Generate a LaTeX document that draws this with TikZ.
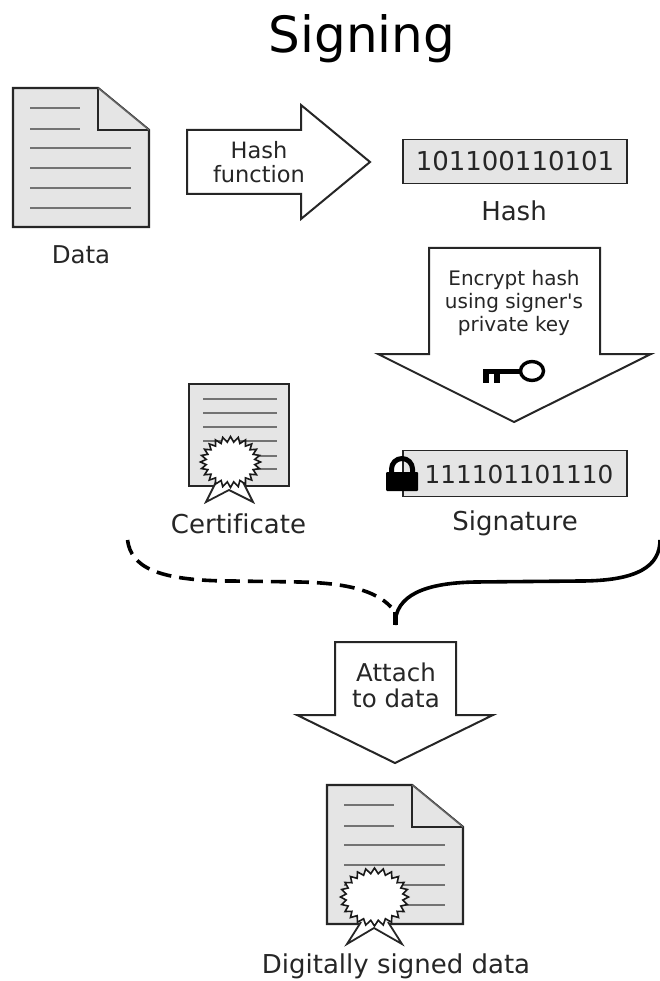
\documentclass[tikz,border=0pt]{standalone}
\usepackage{fontspec}
\setmainfont{DejaVu Sans}[Ligatures={NoCommon}]
\newfontfamily\plainfont{DejaVu Sans}
\tikzset{
  x=1pt,y=-1pt,
  sheet/.style={draw=black!85,line width=2.4pt,fill=black!10,line join=miter},
  txtline/.style={draw=black!55,line width=1.5pt},
  bigarrow/.style={draw=black!85,line width=2pt,fill=white,line join=miter},
  lab/.style={inner sep=0pt,align=center,text=black!85},
  ribbon/.style={draw=black!85,line width=1.8pt,fill=white,line join=miter},
  seal/.style={draw=black!90,line width=1.6pt,fill=white,line join=miter,miter limit=3},
  curveline/.style={draw=black,line width=3.6pt},
}
\newcommand{\sealshape}[4]{%
  \draw[seal] plot[samples at={0,7.5,...,352.5}] ({#1+(mod(round(\x/7.5),2)==0?#3:#3-5.5)*sin(\x)},{#2-(mod(round(\x/7.5),2)==0?#4:#4-5.5)*cos(\x)}) -- cycle;}
\newcommand{\docshape}[2]{%
  \begin{scope}[shift={(#1,#2)}]
  \draw[sheet] (0,0) -- (85,0) -- (136,42) -- (136,139) -- (0,139) -- cycle;
  \draw[sheet] (85,0) -- (85,42) -- (136,42);
  \draw[draw=black!60,line width=1.4pt] (85,0) -- (136,42);
  \foreach \yy in {20,41} {\draw[txtline] (17,\yy) -- (67,\yy);}
  \foreach \yy in {60,80,100,120} {\draw[txtline] (17,\yy) -- (118,\yy);}
  \end{scope}}
\begin{document}
\begin{tikzpicture}
\useasboundingbox (0,0) rectangle (660,981);
\node[lab,text=black,font=\fontsize{50}{50}\selectfont] (title) at (362,39) {Signing};
% data
\docshape{13}{88}
\node[lab,font=\fontsize{24.5}{24.5}\selectfont] (data) at (81,255) {Data};
% hash arrow
\draw[bigarrow] (187,130) -- (301,130) -- (301,105) -- (370,162) -- (301,219) -- (301,194) -- (187,194) -- cycle;
\node[lab,font=\fontsize{22.5}{24}\selectfont] (hf) at (259,162) {Hash\\function};
% hash
\node[draw=black!85,line width=1.8pt,fill=black!10,minimum width=224pt,minimum height=44pt,inner sep=0pt,text=black!85,font=\fontsize{26}{26}\selectfont] (hash) at (515,161.5) {101100110101};
\node[lab,font=\fontsize{26}{26}\selectfont] (hashlab) at (514,211) {Hash};
% encrypt arrow
\draw[bigarrow] (429,248) -- (600,248) -- (600,354) -- (651,354) -- (514,422) -- (378,354) -- (429,354) -- cycle;
\node[lab,font=\plainfont\fontsize{20}{23}\selectfont] (enc) at (514,303) {Encrypt hash\\using signer's\\private key};
% key
\coordinate (keyend) at (483,371.5);
\coordinate (keyring) at (520,371.5);
\draw[line width=3.4pt,black] (532,371) ellipse [x radius=11.5,y radius=9.5];
\draw[line width=5.5pt,black] (keyend) -- (keyring);
\draw[line width=6pt,black] (486,369.5) -- (486,383) (497,369.5) -- (497,383);
% signature
\node[draw=black!85,line width=1.8pt,fill=black!10,minimum width=224pt,minimum height=46pt,inner sep=0pt] (sig) at (515,473.5) {};
\node[lab,font=\fontsize{24.7}{24.7}\selectfont] (sigtxt) at (519,475) {111101101110};
\node[lab,font=\fontsize{26}{26}\selectfont] (siglab) at (515,523) {Signature};
% lock
\draw[line width=5pt,black] (391.5,474) -- (391.5,469) arc[start angle=180,end angle=360,radius=10.5] -- (412.5,474);
\fill[black,rounded corners=1pt] (386,472) rectangle (418,491);
% certificate
\draw[sheet] (189,384) rectangle (289,486);
\foreach \yy in {399,413,427,441,456,469} {\draw[txtline] (203,\yy) -- (277,\yy);}
\draw[ribbon] (216,482) -- (206,502) -- (229,490) -- (253,502) -- (243,482);
\sealshape{230.5}{462}{30}{25.5}
\node[lab,font=\fontsize{26}{26}\selectfont] (certlab) at (238.5,524) {Certificate};
% curves
\coordinate (junction) at (395,625);
\coordinate (leftend) at (127.5,540);
\coordinate (rightend) at (660,540);
\draw[curveline,dash pattern=on 15pt off 8pt] (leftend) .. controls (131,566) and (155,581) .. (233,581) -- (300,582) .. controls (345,583) and (375,590) .. (391,607);
\draw[curveline] (rightend) .. controls (660,566) and (638,581) .. (580,581) -- (475,582) .. controls (425,583) and (395,595) .. (junction);
\draw[curveline,line width=5pt] (395,612) -- (junction);
% attach arrow
\draw[bigarrow] (335,642) -- (456,642) -- (456,715) -- (493,715) -- (395,763) -- (297,715) -- (335,715) -- cycle;
\node[lab,font=\fontsize{24.5}{26}\selectfont] (attach) at (396,685) {Attach\\to data};
% signed doc
\docshape{327}{785}
\draw[ribbon] (361,922) -- (347,944) -- (374,928) -- (402,944) -- (388,922);
\sealshape{374.5}{897}{34}{29}
\node[lab,font=\fontsize{26}{26}\selectfont] (signedlab) at (396,966) {Digitally signed data};
\end{tikzpicture}
\end{document}
